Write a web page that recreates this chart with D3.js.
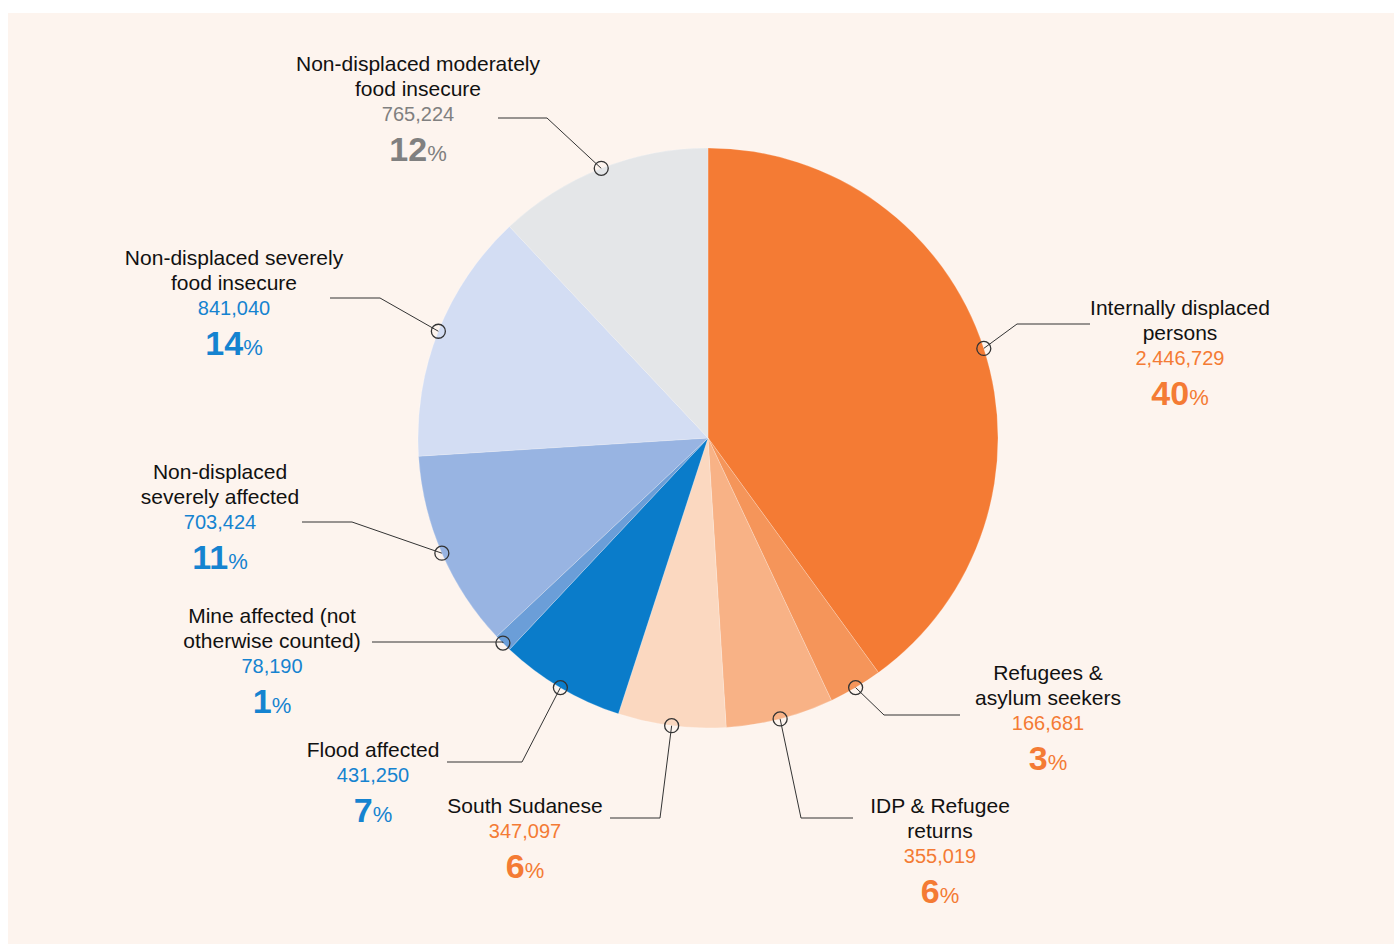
<!DOCTYPE html>
<html><head><meta charset="utf-8">
<script src="https://cdn.jsdelivr.net/npm/d3@7"></script>
<style>body{margin:0;background:#fff;}svg{display:block;font-family:"Liberation Sans",Arial,sans-serif;}</style>
</head><body><svg id="c" width="1394" height="944"></svg>
<script>
const categories = [
  ["Internally displaced","persons"],
  ["Refugees &","asylum seekers"],
  ["IDP & Refugee","returns"],
  ["South Sudanese"],
  ["Flood affected"],
  ["Mine affected (not","otherwise counted)"],
  ["Non-displaced","severely affected"],
  ["Non-displaced severely","food insecure"],
  ["Non-displaced moderately","food insecure"]
];
const values = [2446729, 166681, 355019, 347097, 431250, 78190, 703424, 841040, 765224];
const percents = [40, 3, 6, 6, 7, 1, 11, 14, 12];
const sliceColors = ["#f47b34","#f5955a","#f8b286","#fbd8c0","#0a7cca","#6b9ed8","#98b4e2","#d3ddf3","#e4e6e8"];
const textColors = ["#f47b34","#f47b34","#f47b34","#f47b34","#1583d0","#1583d0","#1583d0","#1583d0","#808080"];
// layout: elbow point, line end x, text center x, first-line baseline y
const layout = [
  {ex:1017, ey:324, lx:1090, tx:1180, ty:315},
  {ex:884, ey:715, lx:960, tx:1048, ty:680},
  {ex:801, ey:818, lx:853, tx:940, ty:813},
  {ex:660, ey:818, lx:610, tx:525, ty:813},
  {ex:522, ey:762, lx:447, tx:373, ty:757},
  {ex:503, ey:642, lx:372, tx:272, ty:623},
  {ex:352, ey:522, lx:302, tx:220, ty:479},
  {ex:380, ey:298, lx:330, tx:234, ty:265},
  {ex:547, ey:118, lx:498, tx:418, ty:71}
];

const svg = d3.select("#c");
svg.append("rect").attr("x",8).attr("y",13).attr("width",1386).attr("height",931).attr("fill","#fdf4ee");

const cx = 708, cy = 438, R = 290;
const pie = d3.pie().sort(null).value(d => d)(percents);
const arc = d3.arc().innerRadius(0).outerRadius(R);
const g = svg.append("g").attr("transform",`translate(${cx},${cy})`);
g.selectAll("path").data(pie).join("path")
  .attr("d", arc).attr("fill", (d,i) => sliceColors[i])
  .attr("stroke","rgba(255,255,255,0.35)").attr("stroke-width",0.6);

const fmt = d3.format(",");
pie.forEach((d,i) => {
  const a = (d.startAngle + d.endAngle)/2;
  const px = cx + R*Math.sin(a), py = cy - R*Math.cos(a);
  const L = layout[i];
  svg.append("polyline")
    .attr("points", `${px},${py} ${L.ex},${L.ey} ${L.lx},${L.ey}`)
    .attr("fill","none").attr("stroke","#333").attr("stroke-width",1);
  svg.append("circle").attr("cx",px).attr("cy",py).attr("r",7)
    .attr("fill","none").attr("stroke","#333").attr("stroke-width",1.3);
  const lines = categories[i];
  let y = L.ty;
  lines.forEach(t => {
    svg.append("text").attr("x",L.tx).attr("y",y).attr("text-anchor","middle")
      .attr("font-size",21).attr("fill","#111").text(t);
    y += 25;
  });
  svg.append("text").attr("x",L.tx).attr("y",y).attr("text-anchor","middle")
    .attr("font-size",20).attr("fill",textColors[i]).text(fmt(values[i]));
  y += 40;
  const p = svg.append("text").attr("x",L.tx).attr("y",y).attr("text-anchor","middle")
    .attr("fill",textColors[i]);
  p.append("tspan").attr("font-size",34).attr("font-weight","bold").text(percents[i]);
  p.append("tspan").attr("font-size",22).text("%");
});
</script></body></html>
